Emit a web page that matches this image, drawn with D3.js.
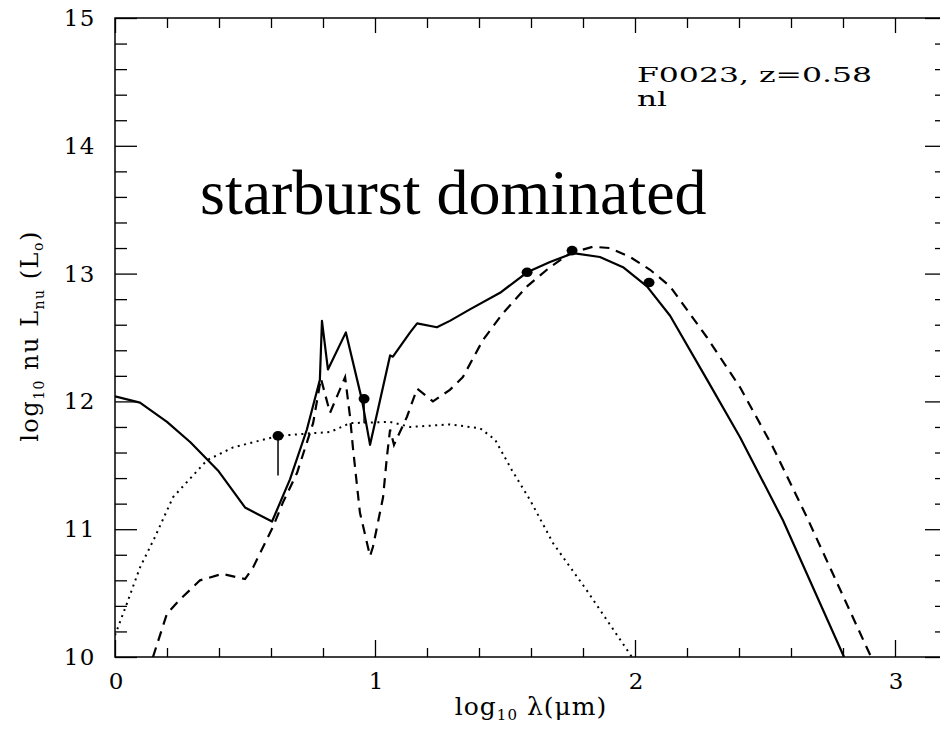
<!DOCTYPE html>
<html>
<head>
<meta charset="utf-8">
<script src="https://cdn.jsdelivr.net/npm/d3@7"></script>
<style>
  body { margin: 0; background: #fff; }
  text { font-family: "DejaVu Serif", serif; fill: #000; }
</style>
</head>
<body>
<svg id="chart"></svg>
<script>
// SED fit, log10 lambda (um) vs log10 nu L_nu (L_sun)

// total model (solid)
const totalModel = [
  [0, 12.04], [0.096, 11.99], [0.2, 11.84], [0.29, 11.68], [0.396, 11.46],
  [0.5, 11.17], [0.604, 11.06], [0.673, 11.39], [0.738, 11.78], [0.788, 12.17],
  [0.796, 12.63], [0.819, 12.25], [0.888, 12.54], [0.95, 12.01], [0.981, 11.66],
  [1.058, 12.36], [1.069, 12.35], [1.135, 12.54], [1.162, 12.61], [1.238, 12.58],
  [1.288, 12.63], [1.365, 12.72], [1.481, 12.85], [1.585, 13.01], [1.673, 13.09],
  [1.762, 13.16], [1.865, 13.13], [1.954, 13.05], [2.046, 12.90], [2.135, 12.67],
  [2.277, 12.17], [2.404, 11.72], [2.569, 11.07], [2.804, 10.0]
];

// starburst component (dashed)
const starburstModel = [
  [0.146, 10.0], [0.2, 10.34], [0.25, 10.45], [0.327, 10.60], [0.412, 10.65],
  [0.5, 10.61], [0.531, 10.70], [0.608, 11.02], [0.646, 11.21], [0.7, 11.44],
  [0.762, 11.83], [0.792, 12.18], [0.827, 11.91], [0.885, 12.19], [0.904, 11.88],
  [0.915, 11.64], [0.942, 11.13], [0.981, 10.79], [0.992, 10.86], [1.031, 11.25],
  [1.046, 11.57], [1.058, 11.78], [1.073, 11.66], [1.123, 11.88], [1.162, 12.10],
  [1.223, 12.0], [1.288, 12.09], [1.338, 12.19], [1.415, 12.48], [1.492, 12.69],
  [1.585, 12.90], [1.673, 13.05], [1.75, 13.16], [1.838, 13.21], [1.904, 13.20],
  [1.981, 13.13], [2.058, 13.03], [2.135, 12.90], [2.277, 12.50], [2.404, 12.11],
  [2.531, 11.64], [2.662, 11.09], [2.908, 10.0]
];

// stellar component (dotted)
const stellarModel = [
  [0, 10.17], [0.046, 10.42], [0.096, 10.70], [0.154, 10.94], [0.223, 11.25],
  [0.354, 11.54], [0.454, 11.64], [0.627, 11.73], [0.75, 11.75], [0.827, 11.76],
  [0.904, 11.83], [1.058, 11.84], [1.135, 11.80], [1.288, 11.82], [1.404, 11.79],
  [1.462, 11.70], [1.527, 11.46], [1.596, 11.23], [1.685, 10.89], [1.815, 10.52],
  [1.988, 10.0]
];

// photometry: [log lambda, value, lower end of bar]
const photometry = [
  [0.627, 11.73, 11.42],
  [0.958, 12.02, 11.83],
  [1.585, 13.01, null],
  [1.758, 13.18, null],
  [2.054, 12.93, null]
];

const xMajor = [0, 1, 2, 3];
const yMajor = [10, 11, 12, 13, 14, 15];
const xMinor = d3.range(0, 3.21, 0.2).filter(v => Math.abs(v - Math.round(v)) > 1e-6);
const yMinor = d3.range(10, 15.01, 0.2).filter(v => Math.abs(v - Math.round(v)) > 1e-6);

const w = 940;
const h = 729;
const plot = {left: 115, right: 947, top: 18, bottom: 657};

const svg = d3.select("#chart").attr("width", w).attr("height", h);

// SCALES
const x = d3.scaleLinear().domain([0, 3.2]).range([plot.left, plot.right]);
const y = d3.scaleLinear().domain([10, 15]).range([plot.bottom, plot.top]);

// FRAME + TICKS
svg.append("rect")
  .attr("x", plot.left).attr("y", plot.top)
  .attr("width", plot.right - plot.left).attr("height", plot.bottom - plot.top)
  .attr("fill", "none").attr("stroke", "#000").attr("stroke-width", 1.5);

const addAxis = (axis, tx, ty) => {
  const g = svg.append("g").attr("transform", `translate(${tx},${ty})`).call(axis);
  g.select(".domain").remove();
  g.selectAll(".tick line").attr("stroke", "#000").attr("stroke-width", 1.3);
  g.selectAll(".tick text").remove();
};

addAxis(d3.axisTop(x).tickValues(xMajor).tickSize(17), 0, plot.bottom);
addAxis(d3.axisTop(x).tickValues(xMinor).tickSize(9), 0, plot.bottom);
addAxis(d3.axisBottom(x).tickValues(xMajor).tickSize(15), 0, plot.top);
addAxis(d3.axisBottom(x).tickValues(xMinor).tickSize(10), 0, plot.top);
addAxis(d3.axisRight(y).tickValues(yMajor).tickSize(22), plot.left, 0);
addAxis(d3.axisRight(y).tickValues(yMinor).tickSize(12), plot.left, 0);
addAxis(d3.axisLeft(y).tickValues(yMajor).tickSize(22), plot.right, 0);
addAxis(d3.axisLeft(y).tickValues(yMinor).tickSize(12), plot.right, 0);

// tick labels
svg.selectAll(".xlab")
  .data(xMajor)
  .join("text")
  .attr("class", "xlab")
  .attr("x", d => x(d) + 1)
  .attr("y", 689)
  .attr("text-anchor", "middle")
  .style("font-size", "23px")
  .text(d => d);

svg.selectAll(".ylab")
  .data(yMajor)
  .join("text")
  .attr("class", "ylab")
  .attr("x", 96)
  .attr("y", d => y(d) + 8)
  .attr("text-anchor", "end")
  .style("font-size", "23px")
  .style("letter-spacing", "1.5px")
  .text(d => d);

// axis titles
const xt = svg.append("text")
  .attr("x", 531).attr("y", 715)
  .attr("text-anchor", "middle")
  .style("font-size", "25px")
  .style("letter-spacing", "1px");
xt.append("tspan").text("log");
xt.append("tspan").attr("dy", 5).style("font-size", "15px").text("10");
xt.append("tspan").attr("dy", -5).text(" λ(μm)");

const yt = svg.append("text")
  .attr("transform", "translate(38,336) rotate(-90)")
  .attr("text-anchor", "middle")
  .style("font-size", "24px")
  .style("letter-spacing", "1.5px");
yt.append("tspan").text("log");
yt.append("tspan").attr("dy", 6).style("font-size", "14px").text("10");
yt.append("tspan").attr("dy", -6).text(" nu L");
yt.append("tspan").attr("dy", 6).style("font-size", "14px").text("nu");
yt.append("tspan").attr("dy", -6).text(" (L");
yt.append("tspan").attr("dy", 5).style("font-size", "14px").text("o");
yt.append("tspan").attr("dy", -5).text(")");

// CURVES
svg.append("clipPath").attr("id", "clip")
  .append("rect")
  .attr("x", plot.left).attr("y", plot.top)
  .attr("width", plot.right - plot.left).attr("height", plot.bottom - plot.top);

const line = d3.line().x(d => x(d[0])).y(d => y(d[1]));
const curves = svg.append("g").attr("clip-path", "url(#clip)");

curves.append("path").datum(stellarModel)
  .attr("d", line).attr("fill", "none").attr("stroke", "#000")
  .attr("stroke-width", 2).attr("stroke-dasharray", "2,4.5");

curves.append("path").datum(starburstModel)
  .attr("d", line).attr("fill", "none").attr("stroke", "#000")
  .attr("stroke-width", 2.2).attr("stroke-dasharray", "10,7");

curves.append("path").datum(totalModel)
  .attr("d", line).attr("fill", "none").attr("stroke", "#000")
  .attr("stroke-width", 2.2).attr("stroke-linejoin", "round");

// PHOTOMETRY
svg.selectAll(".bar")
  .data(photometry.filter(d => d[2] !== null))
  .join("line")
  .attr("class", "bar")
  .attr("x1", d => x(d[0])).attr("x2", d => x(d[0]))
  .attr("y1", d => y(d[1])).attr("y2", d => y(d[2]))
  .attr("stroke", "#000").attr("stroke-width", 1.5);

svg.selectAll(".pt")
  .data(photometry)
  .join("ellipse")
  .attr("class", "pt")
  .attr("cx", d => x(d[0])).attr("cy", d => y(d[1]))
  .attr("rx", 5.5).attr("ry", 4.8)
  .attr("fill", "#000");

// LABELS
svg.append("text")
  .attr("x", 637).attr("y", 82)
  .attr("textLength", 235).attr("lengthAdjust", "spacingAndGlyphs")
  .style("font-size", "21px")
  .text("F0023, z=0.58");

svg.append("text")
  .attr("x", 637).attr("y", 106)
  .attr("textLength", 30).attr("lengthAdjust", "spacingAndGlyphs")
  .style("font-size", "21px")
  .text("nl");

svg.append("text")
  .attr("x", 200).attr("y", 214)
  .style("font-family", "'Liberation Serif', 'Times New Roman', serif")
  .style("font-size", "64px")
  .text("starburst dominated");
</script>
</body>
</html>
